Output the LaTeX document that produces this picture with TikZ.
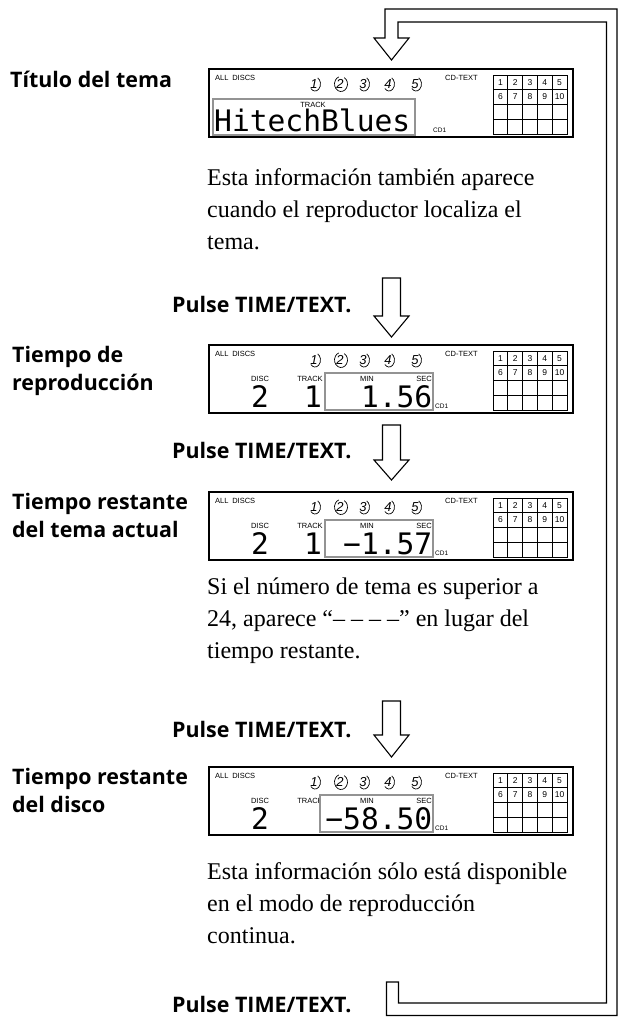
\documentclass[tikz,border=0pt]{standalone}
\usepackage{fontspec}
\setmainfont{Liberation Serif}
\newfontfamily\lblfont{Open Sans}
\newfontfamily\lcdfont{DejaVu Sans Mono}
\newfontfamily\smallfont{Liberation Sans}
\tikzset{
  lbl/.style={font=\lblfont\bfseries\fontsize{21.4}{28}\selectfont, anchor=base west, inner sep=0pt, align=left},
  body/.style={font=\fontsize{24}{32}\selectfont, anchor=base west, inner sep=0pt, align=left},
  tiny/.style={font=\smallfont\fontsize{7.5}{8}\selectfont, inner sep=0pt},
  tinier/.style={font=\smallfont\fontsize{6.5}{7}\selectfont, inner sep=0pt},
  gridnum/.style={font=\smallfont\fontsize{8.5}{9}\selectfont, inner sep=0pt},
  discn/.style={font=\smallfont\itshape\fontsize{13}{13}\selectfont, inner sep=0pt},
  lcd/.style={font=\lcdfont\fontsize{29.6}{30}\selectfont, inner sep=0pt},
  frame/.style={line width=2.4pt},
  graybox/.style={draw=gray!85, line width=2pt, fill=white},
  gridline/.style={line width=0.8pt},
  loopline/.style={line width=1.1pt, fill=white},
  arrowline/.style={line width=1.1pt, fill=white},
  swoosh/.style={line width=0.7pt},
}
\newcommand\hollowdown[4]{%
  \draw[arrowline] (382.5,#1) -- (400.5,#1) -- (400.5,#2) -- (409,#2)
    -- (391.5,#3) -- (374,#2) -- (382.5,#2) -- cycle;
  \coordinate (tip#4) at (391.5,#3);}
\newcommand\cdframe[2]{%
\begin{scope}[shift={(0,#1)}]
  \draw[frame] (209,0) rectangle (573,68);
  \node[tiny,anchor=west] (all#2) at (215,9) {ALL\enspace DISCS};
  \foreach \n/\xx in {1/314,3/363,4/388,5/415}{
    \node[discn] (d#2\n) at (\xx,15) {\n};
    \draw[swoosh] (\xx+1,15) ++(140:5.5 and 7) arc[start angle=140,end angle=-60,x radius=5.5,y radius=7];
  }
  \node[discn] (d#22) at (340,15) {2};
  \draw[swoosh] (341,15) ++(-60:6.5 and 7.5) arc[start angle=-60,end angle=250,x radius=6.5,y radius=7.5];
  \node[tiny,anchor=west] (cdt#2) at (445,9) {CD-TEXT};
  \draw[gridline] (493,6) rectangle (567,65);
  \foreach \gx in {507.8,522.6,537.4,552.2} \draw[gridline] (\gx,6) -- (\gx,65);
  \foreach \gy in {20.5,35,50} \draw[gridline] (493,\gy) -- (567,\gy);
  \foreach \i in {1,...,5}{
    \pgfmathtruncatemacro\j{\i+5}
    \node[gridnum] (ga#2\i) at (485.6+14.8*\i,13.4) {\i};
    \node[gridnum] (gb#2\i) at (485.6+14.8*\i,27.9) {\j};
  }
\end{scope}}
\newcommand\timedisplay[6]{% top, name, boxleft, time, showone, cd1x
\begin{scope}[shift={(0,#1)}]
  \node[tiny] (disc#2) at (260,34) {DISC};
  \node[lcd,anchor=base] (dn#2) at (260,62) {2};
  \node[tiny] (trk#2) at (310,34) {TRACK};
  #5
  \draw[graybox] (#3,28) rectangle (433,65);
  \node[tiny] (min#2) at (367,34) {MIN};
  \node[tiny] (sec#2) at (424,34) {SEC};
  \node[lcd,anchor=base east] (t#2) at (432.5,62) {#4};
  \node[tinier,anchor=west] (cd#2) at (#6,61) {CD1};
\end{scope}}
\begin{document}
\begin{tikzpicture}[x=1pt,y=-1pt]
\useasboundingbox (0,0) rectangle (620,1017);
% return loop
\draw[loopline] (386.5,982) -- (386.5,1015.5) -- (617,1015.5) -- (617,9) -- (385,9)
  -- (385,38) -- (374,38) -- (391.5,60) -- (409,38) -- (398,38) -- (398,22)
  -- (606.5,22) -- (606.5,1003) -- (398.5,1003) -- (398.5,982) -- cycle;
% display 1
\cdframe{69}{a}
\begin{scope}[shift={(0,69)}]
  \draw[graybox] (213,30) rectangle (415,66);
  \node[tiny] (trka) at (313,36) {TRACK};
  \node[lcd,anchor=base west] (ttla) at (214,62) {HitechBlues};
  \node[tinier,anchor=west] (cda) at (433,61) {CD1};
\end{scope}
\node[lbl] (l1) at (10,87) {Título del tema};
\node[body] (b1) at (207,249) {Esta información también aparece\\cuando el reproductor localiza el\\tema.};
% step 2
\node[lbl] (p1) at (172,312) {Pulse TIME/TEXT.};
\hollowdown{278}{316}{337}{1}
\cdframe{345}{b}
\timedisplay{345}{b}{325}{1.56}{\node[lcd,anchor=base] (onb) at (313,62) {1};}{435}
\node[lbl] (l2) at (12,390) {Tiempo de\\reproducción};
% step 3
\node[lbl] (p2) at (172,458) {Pulse TIME/TEXT.};
\hollowdown{425}{460}{480}{2}
\cdframe{492}{c}
\timedisplay{492}{c}{325}{−1.57}{\node[lcd,anchor=base] (onc) at (313,62) {1};}{435}
\node[lbl] (l3) at (12,537) {Tiempo restante\\del tema actual};
\node[body] (b2) at (207,658) {Si el número de tema es superior a\\24, aparece “– – – –” en lugar del\\tiempo restante.};
% step 4
\node[lbl] (p3) at (172,737) {Pulse TIME/TEXT.};
\hollowdown{701}{735}{757}{3}
\cdframe{767}{d}
\timedisplay{767}{d}{320}{−58.50}{}{435}
\node[lbl] (l4) at (12,812) {Tiempo restante\\del disco};
\node[body] (b3) at (207,943) {Esta información sólo está disponible\\en el modo de reproducción\\continua.};
\node[lbl] (p4) at (172,1012) {Pulse TIME/TEXT.};
\end{tikzpicture}
\end{document}
